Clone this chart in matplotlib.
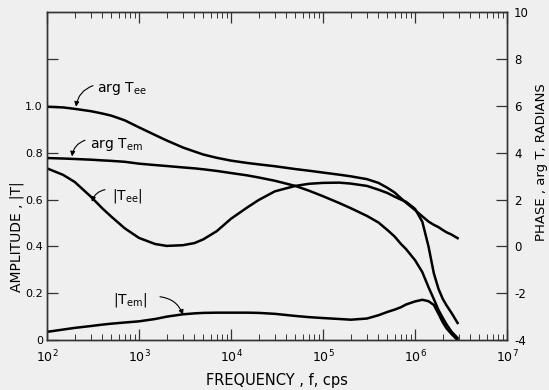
import numpy as np
import matplotlib
matplotlib.use('Agg')
from matplotlib import pyplot as plt
from matplotlib.ticker import LogLocator, NullFormatter, FixedLocator

# Frequency points, cps
freq = [1e2, 1.5e2, 2e2, 3e2, 4e2, 5e2, 7e2,
        1e3, 1.5e3, 2e3, 3e3, 4e3, 5e3, 7e3,
        1e4, 1.5e4, 2e4, 3e4, 5e4, 7e4,
        1e5, 1.5e5, 2e5, 3e5, 4e5, 5e5, 6e5, 7e5, 8e5,
        1e6, 1.2e6, 1.4e6, 1.6e6, 1.8e6, 2e6, 2.2e6, 2.5e6, 2.9e6]

# Amplitudes (left scale)
amp_ee = [0.733, 0.705, 0.675, 0.612, 0.562, 0.527, 0.477,
          0.436, 0.410, 0.402, 0.405, 0.414, 0.430, 0.465,
          0.518, 0.566, 0.598, 0.635, 0.658, 0.667,
          0.671, 0.672, 0.668, 0.658, 0.642, 0.628, 0.612, 0.600, 0.590,
          0.560, 0.505, 0.400, 0.285, 0.218, 0.176, 0.148, 0.115, 0.073]
amp_em = [0.035, 0.045, 0.052, 0.060, 0.066, 0.070, 0.075,
          0.080, 0.090, 0.100, 0.110, 0.114, 0.116, 0.117,
          0.117, 0.117, 0.116, 0.112, 0.103, 0.098,
          0.094, 0.090, 0.087, 0.092, 0.106, 0.120, 0.130, 0.140, 0.152,
          0.165, 0.172, 0.166, 0.150, 0.112, 0.076, 0.050, 0.025, 0.0]

# Phases in radians (right scale)
arg_ee = [5.96, 5.93, 5.87, 5.77, 5.67, 5.58, 5.38,
          5.08, 4.75, 4.52, 4.22, 4.05, 3.92, 3.78,
          3.66, 3.56, 3.50, 3.42, 3.30, 3.23,
          3.15, 3.06, 2.99, 2.87, 2.71, 2.50, 2.30, 2.06, 1.86,
          1.55, 1.28, 1.06, 0.92, 0.82, 0.70, 0.60, 0.50, 0.35]
arg_em = [3.77, 3.75, 3.73, 3.70, 3.67, 3.65, 3.61,
          3.53, 3.47, 3.43, 3.37, 3.33, 3.29, 3.22,
          3.13, 3.03, 2.94, 2.80, 2.58, 2.38,
          2.14, 1.85, 1.63, 1.30, 1.02, 0.70, 0.42, 0.11, -0.12,
          -0.59, -1.10, -1.74, -2.25, -2.72, -3.05, -3.33, -3.65, -3.91]

amp_ticks = [0, 0.2, 0.4, 0.6, 0.8, 1.0, 1.2]
amp_labels = ['0', '0.2', '0.4', '0.6', '0.8', '1.0', '']
phase_ticks = [-4, -2, 0, 2, 4, 6, 8, 10]

bg = '#efefef'
ink = '#333333'
plt.rcParams['font.family'] = 'DejaVu Sans'

fig = plt.figure(figsize=(5.49, 3.90), dpi=100, facecolor=bg)
ax = fig.add_axes([0.0856, 0.128, 0.838, 0.841])
ax.set_facecolor(bg)
ax2 = ax.twinx()

lw = 1.8
ax.plot(freq, amp_ee, color='black', lw=lw)
ax.plot(freq, amp_em, color='black', lw=lw)
ax2.plot(freq, arg_ee, color='black', lw=lw)
ax2.plot(freq, arg_em, color='black', lw=lw)

ax.set_xscale('log')
ax.set_xlim(1e2, 1e7)
ax.set_ylim(0, 1.4)
ax2.set_ylim(-4, 10)

ax.xaxis.set_major_locator(LogLocator(base=10, numticks=10))
ax.xaxis.set_minor_locator(LogLocator(base=10, subs=np.arange(2, 10), numticks=20))
ax.xaxis.set_minor_formatter(NullFormatter())
ax.yaxis.set_major_locator(FixedLocator(amp_ticks))
ax.set_yticklabels(amp_labels)
ax2.yaxis.set_major_locator(FixedLocator(phase_ticks))
ax2.set_yticklabels([str(t) for t in phase_ticks])

for a in (ax, ax2):
    for s in a.spines.values():
        s.set_linewidth(1.0)
        s.set_color(ink)
ax.tick_params(axis='x', which='both', direction='in', top=True, bottom=True,
               labelsize=9, pad=6, color=ink)
ax.tick_params(axis='x', which='major', length=8, width=0.9)
ax.tick_params(axis='x', which='minor', length=4, width=0.7)
ax.tick_params(axis='y', direction='in', length=8, width=0.9, labelsize=8,
               pad=3, color=ink, right=False)
ax2.tick_params(axis='y', direction='in', length=8, width=0.9, labelsize=8.5,
                pad=5, color=ink)

ax.set_xlabel('FREQUENCY , f, cps', fontsize=10.5, labelpad=6)
fig.text(17 / 549, 1 - 237 / 390, 'AMPLITUDE , |T|', fontsize=10,
         rotation=90, ha='center', va='center')
fig.text(541 / 549, 1 - 162 / 390, 'PHASE , arg T, RADIANS', fontsize=9.5,
         rotation=90, ha='center', va='center')

# curve labels with leader arrows
arrow = dict(arrowstyle='-|>', color='black', lw=0.8, mutation_scale=7,
             shrinkA=0, shrinkB=0)
notes = [
    (r'arg $\mathregular{T_{ee}}$', (349, 1.073), (316, 1.086), (207, 0.996), 0.3),
    (r'arg $\mathregular{T_{em}}$', (293, 0.836), (259, 0.853), (187, 0.784), 0.3),
    (r'$\mathregular{|T_{ee}|}$', (509, 0.616), (427, 0.642), (308, 0.590), 0.3),
    (r'$\mathregular{|T_{em}|}$', (521, 0.172), (1690, 0.185), (3006, 0.108), -0.3),
]
for label, txt, start, tip, rad in notes:
    ax.text(txt[0], txt[1], label, fontsize=10, ha='left', va='center')
    ax.annotate('', xy=tip, xytext=start,
                arrowprops=dict(arrow, connectionstyle='arc3,rad=%s' % rad))

fig.savefig('out.png', dpi=100, facecolor=bg)
